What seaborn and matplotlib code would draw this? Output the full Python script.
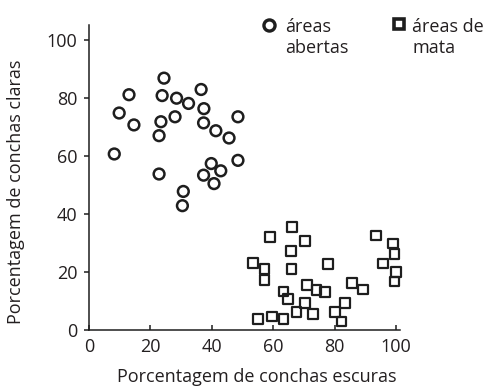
#!/usr/bin/env python3
"""
Conchas claras vs escuras: dispersão por tipo de área.
"""

import numpy as np
import pandas as pd
import matplotlib
matplotlib.use("Agg")
import matplotlib.pyplot as plt
import seaborn as sns

# --- dados ---
abertas_escuras = [8.2, 9.8, 13.0, 14.6, 24.4, 23.8, 23.4, 22.8, 22.8, 28.5,
                   28.0, 32.4, 36.5, 37.4, 37.3, 41.3, 45.6, 48.5, 48.5, 39.8,
                   37.3, 42.9, 40.7, 30.7, 30.4]
abertas_claras = [60.6, 74.7, 81.0, 70.6, 86.7, 80.7, 71.7, 66.9, 53.7, 79.8,
                  73.4, 78.0, 82.8, 76.2, 71.3, 68.6, 66.1, 73.4, 58.4, 57.3,
                  53.3, 54.8, 50.4, 47.7, 42.8]

mata_escuras = [58.9, 66.2, 70.4, 65.7, 53.4, 57.2, 57.2, 65.9, 77.8, 93.4,
                99.1, 99.5, 95.7, 99.9, 99.5, 85.6, 89.2, 63.3, 70.9, 74.1,
                76.8, 64.9, 70.3, 67.6, 73.0, 83.4, 80.1, 82.3, 55.1, 59.5,
                63.3]
mata_claras = [32.0, 35.4, 30.7, 27.1, 23.0, 21.0, 17.2, 20.9, 22.8, 32.5,
               29.8, 26.1, 22.9, 20.0, 16.7, 16.2, 14.0, 13.2, 15.4, 13.8,
               13.0, 10.7, 9.2, 6.2, 5.5, 9.2, 6.2, 2.9, 3.8, 4.7,
               3.8]

x_ticks = [0, 20, 40, 60, 80, 100]
y_ticks = [0, 20, 40, 60, 80, 100]

TXT = "#231f20"
INK = "#1e1e1e"
W, H = 487, 391


def fx(px):
    return px / W


def fy(px):
    return 1 - px / H


def main():
    sns.set_style("ticks")
    plt.rcParams["font.family"] = ["Open Sans", "DejaVu Sans"]
    plt.rcParams["font.size"] = 13

    df = pd.concat([
        pd.DataFrame({"escuras": abertas_escuras, "claras": abertas_claras,
                      "area": "áreas abertas"}),
        pd.DataFrame({"escuras": mata_escuras, "claras": mata_claras,
                      "area": "áreas de mata"}),
    ], ignore_index=True)

    fig = plt.figure(figsize=(W / 100, H / 100), dpi=100)
    # eixo: x=0 em 89 px, x=101.3 em 400 px; y=0 em 330 px, y=105 em 25 px
    ax = fig.add_axes([fx(89.1), (H - 330) / H, (400 - 89.1) / W, (330 - 25) / H])

    sns.scatterplot(data=df[df["area"] == "áreas abertas"], x="escuras", y="claras",
                    marker="o", s=60, linewidth=1.8, facecolor="none",
                    edgecolor=INK, ax=ax, legend=False, clip_on=False)
    sns.scatterplot(data=df[df["area"] == "áreas de mata"], x="escuras", y="claras",
                    marker="s", s=48, linewidth=1.6, facecolor="none",
                    edgecolor=INK, ax=ax, legend=False, clip_on=False)
    for coll in ax.collections:
        coll.set_facecolor("none")
        coll.set_edgecolor(INK)

    ax.set_xlim(0, 101.3)
    ax.set_ylim(0, 105)
    ax.set_xticks(x_ticks)
    ax.set_yticks(y_ticks)
    sns.despine(ax=ax)
    for side in ("left", "bottom"):
        ax.spines[side].set_linewidth(1.1)
        ax.spines[side].set_color(INK)

    ax.tick_params(axis="x", direction="in", length=3.6, width=1.1, pad=6,
                   colors=INK, labelcolor=TXT, labelsize=13)
    ax.tick_params(axis="y", direction="out", length=3.3, width=1.1, pad=5,
                   colors=INK, labelcolor=TXT, labelsize=13)

    ax.set_xlabel("Porcentagem de conchas escuras", color=TXT, fontsize=13)
    ax.set_ylabel("Porcentagem de conchas claras", color=TXT, fontsize=13)
    ax.xaxis.set_label_coords(0.539, -0.125)
    ax.yaxis.set_label_coords(-0.205, 0.452)

    # legenda manual (marcador + texto em duas linhas)
    ax.plot([fx(269)], [fy(24.5)], "o", ms=8, mew=2.4, mfc="none", mec=INK,
            transform=fig.transFigure, clip_on=False)
    fig.text(fx(285), fy(53), "áreas\nabertas", va="baseline", ha="left",
             fontsize=13, color=TXT, linespacing=1.2)
    ax.plot([fx(399)], [fy(24)], "s", ms=7.5, mew=2.6, mfc="none", mec=INK,
            transform=fig.transFigure, clip_on=False)
    fig.text(fx(412), fy(53), "áreas de\nmata", va="baseline", ha="left",
             fontsize=13, color=TXT, linespacing=1.2)

    fig.savefig("out.png", dpi=100)
    plt.close(fig)


if __name__ == "__main__":
    main()
